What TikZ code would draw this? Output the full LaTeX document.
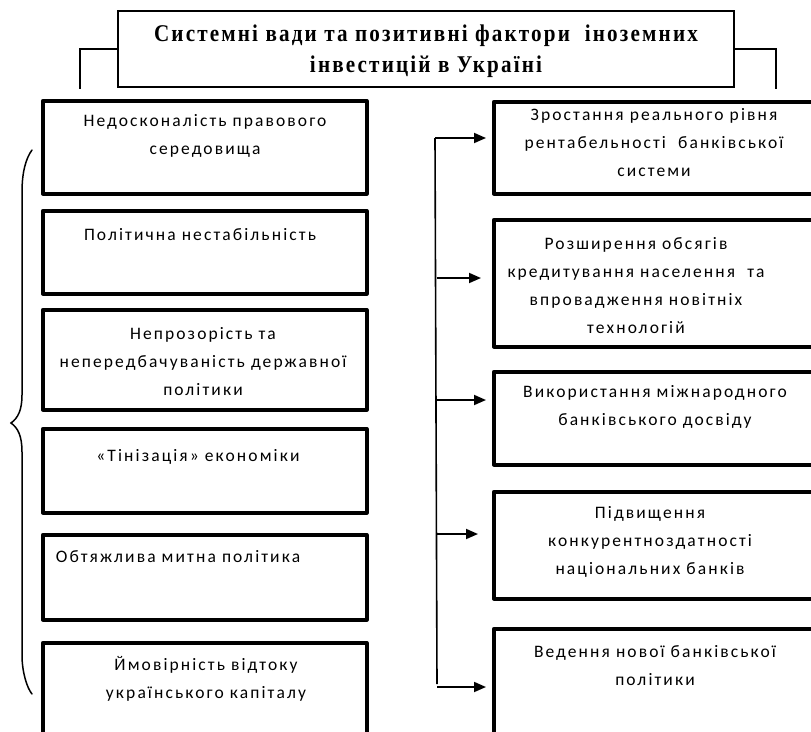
\documentclass[tikz,border=0pt]{standalone}
\usepackage{fontspec}
\setmainfont{Liberation Serif}
\newfontfamily\boxfont[LetterSpace=12]{Carlito}
\newfontfamily\headfont[FakeStretch=0.88,LetterSpace=9]{Liberation Serif Bold}
\usetikzlibrary{arrows.meta}
\begin{document}
\begin{tikzpicture}[x=1pt,y=-1pt,
  lbox/.style={draw, line width=3.5pt, line join=round, anchor=north west, inner sep=0pt},
  titlebox/.style={draw, line width=1.8pt, inner sep=0pt},
  txt/.style={font=\boxfont\fontsize{17.5}{28}\selectfont, align=center, inner sep=0pt},
  ttxt/.style={font=\headfont\fontsize{24}{31}\selectfont, align=center, inner sep=0pt},
  arr/.style={line width=1.8pt, -{Triangle[length=12pt,width=10pt]}},
  conn/.style={line width=1.6pt},
  bracestyle/.style={line width=1.5pt, line cap=round}]
\useasboundingbox (0,0) rectangle (811,731);

% title
\node[titlebox, minimum width=616pt, minimum height=76pt] (title) at (426,49) {};
\node[ttxt] (titletext) at (426,51) {Системні вади та позитивні фактори~ іноземних\\інвестицій в Україні};
\coordinate (lb) at (80,89);
\coordinate (rb) at (776,89);
\draw[conn] (title.west) -| (lb);
\draw[conn] (title.east) -| (rb);

% left boxes
\node[lbox, minimum width=324pt, minimum height=93pt] (l1) at (41,99) {};
\node[lbox, minimum width=324pt, minimum height=83pt] (l2) at (41,209) {};
\node[lbox, minimum width=324pt, minimum height=100pt] (l3) at (41,308) {};
\node[lbox, minimum width=324pt, minimum height=84pt] (l4) at (41,427) {};
\node[lbox, minimum width=324pt, minimum height=85pt] (l5) at (41,533) {};
\node[lbox, minimum width=324pt, minimum height=110pt] (l6) at (41,641) {};

\node[txt] (l1t) at (205,136) {Недосконалість правового\\середовища};
\node[txt] (l2t) at (200,235) {Політична нестабільність};
\node[txt] (l3t) at (203,361.5) {Непрозорість та\\непередбачуваність державної\\політики};
\node[txt] (l4t) at (198,457) {«Тінізація» економіки};
\node[txt] (l5t) at (178,557) {Обтяжлива митна політика};
\node[txt] (l6t) at (206,678.5) {Ймовірність відтоку\\українського капіталу};

% right boxes
\node[lbox, minimum width=324pt, minimum height=92pt] (r1) at (492,100) {};
\node[lbox, minimum width=324pt, minimum height=127pt] (r2) at (492,218) {};
\node[lbox, minimum width=324pt, minimum height=93pt] (r3) at (492,370) {};
\node[lbox, minimum width=324pt, minimum height=107pt] (r4) at (492,490) {};
\node[lbox, minimum width=324pt, minimum height=120pt] (r5) at (492,627) {};

\node[txt] (r1t) at (654,143) {Зростання реального рівня\\рентабельності\ \ банківської\\системи};
\node[txt] (r2t) at (636,285.5) {Розширення обсягів\\кредитування населення\ \ та\\впровадження новітніх\\технологій};
\node[txt] (r3t) at (655,406.5) {Використання міжнародного\\банківського досвіду};
\node[txt] (r4t) at (650,542) {Підвищення\\конкурентноздатності\\національних банків};
\node[txt] (r5t) at (655,666) {Ведення нової банківської\\політики};

% connectors
\coordinate (sp1) at (435,138);
\coordinate (sp5) at (437,684);
\coordinate (s2) at (436.5,278);
\coordinate (s3) at (436.5,400);
\coordinate (s4) at (437,534);
\coordinate (s5) at (437,687);
\coordinate (t1) at (486,138);
\coordinate (t2) at (481,278);
\coordinate (t3) at (486,400);
\coordinate (t4) at (478,534);
\coordinate (t5) at (486,687);
\draw[conn] (sp1) -- (sp5);
\draw[arr] (sp1) -- (t1);
\draw[arr] (s2) -- (t2);
\draw[arr] (s3) -- (t3);
\draw[arr] (s4) -- (t4);
\draw[arr] (s5) -- (t5);

% brace
\draw[bracestyle] (32,150) .. controls (26,158) and (22,172) .. (22,192) -- (22,395)
  .. controls (22,410) and (18,418) .. (11,423)
  .. controls (18,428) and (22,436) .. (22,452) -- (22,655)
  .. controls (22,672) and (27,688) .. (32,694);
\end{tikzpicture}
\end{document}
